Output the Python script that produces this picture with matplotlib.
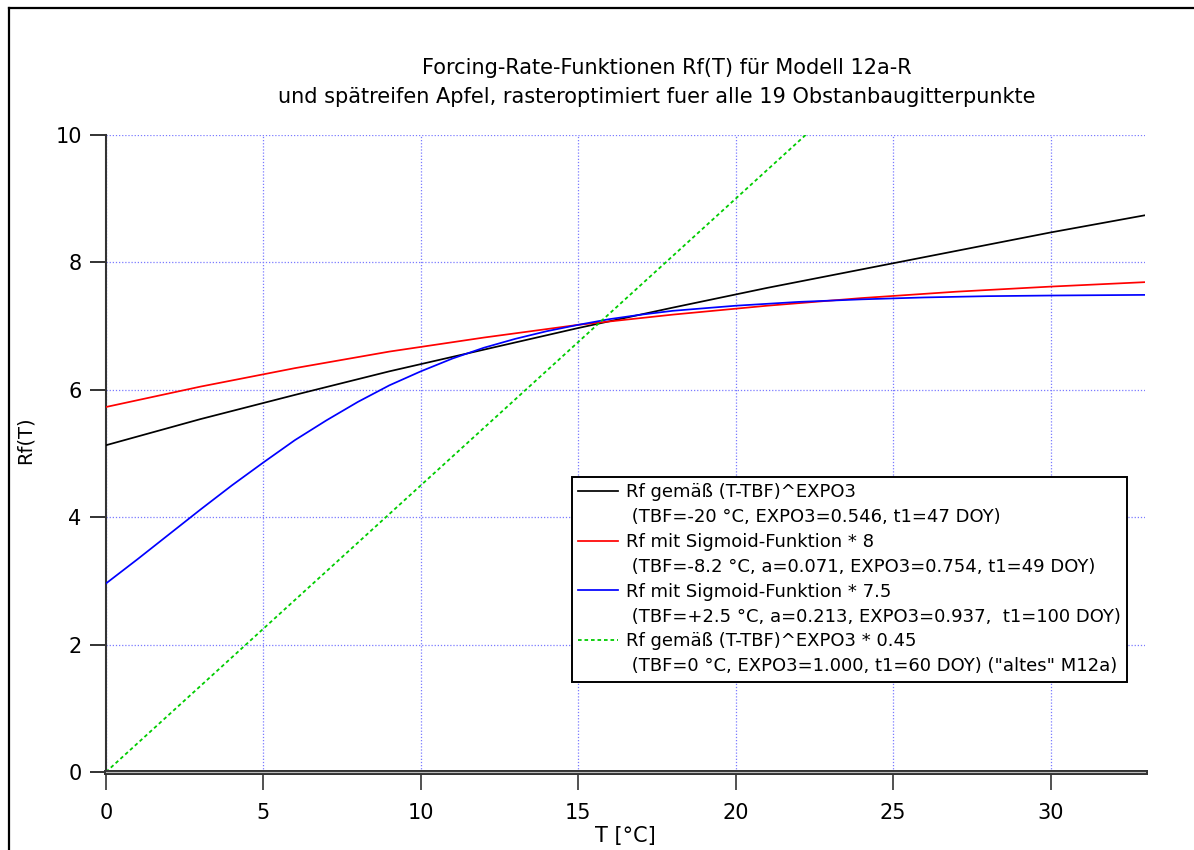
import matplotlib
matplotlib.use("Agg")
import matplotlib.pyplot as plt
from matplotlib.lines import Line2D

# -----------------------------
# Data
# -----------------------------
t_black = [0, 3, 6, 9, 12, 15, 18, 21, 24, 27, 30, 33]
rf_black = [5.13, 5.54, 5.92, 6.29, 6.63, 6.97, 7.29, 7.60, 7.89, 8.18, 8.47, 8.74]

t_red = [0, 3, 6, 9, 12, 15, 18, 21, 24, 27, 30, 33]
rf_red = [5.73, 6.05, 6.34, 6.60, 6.82, 7.02, 7.18, 7.32, 7.44, 7.54, 7.62, 7.69]

t_blue = [0, 1, 2, 3, 4, 5, 6, 7, 8, 9, 10, 11, 12, 13, 14, 15, 16, 17, 18, 19,
          20, 22, 24, 26, 28, 30, 33]
rf_blue = [2.96, 3.34, 3.73, 4.12, 4.50, 4.86, 5.21, 5.52, 5.81, 6.07, 6.29,
           6.49, 6.66, 6.80, 6.92, 7.02, 7.11, 7.18, 7.24, 7.28, 7.32, 7.38,
           7.42, 7.45, 7.47, 7.48, 7.49]

t_green = [0, 22.22]
rf_green = [0, 10]

legend_lines = [
    ("Rf gemäß (T-TBF)^EXPO3", " (TBF=-20 °C, EXPO3=0.546, t1=47 DOY)"),
    ("Rf mit Sigmoid-Funktion * 8", " (TBF=-8.2 °C, a=0.071, EXPO3=0.754, t1=49 DOY)"),
    ("Rf mit Sigmoid-Funktion * 7.5", " (TBF=+2.5 °C, a=0.213, EXPO3=0.937,  t1=100 DOY)"),
    ("Rf gemäß (T-TBF)^EXPO3 * 0.45", " (TBF=0 °C, EXPO3=1.000, t1=60 DOY) (\"altes\" M12a)"),
]

title_1 = "Forcing-Rate-Funktionen Rf(T) für Modell 12a-R"
title_2 = "und spätreifen Apfel, rasteroptimiert fuer alle 19 Obstanbaugitterpunkte"

# -----------------------------
# Figure
# -----------------------------
plt.rcParams['font.family'] = ['DejaVu Sans']
W, H = 1194, 850
fig = plt.figure(figsize=(W / 100, H / 100), dpi=100)
ax = fig.add_axes([106 / W, 1 - 772 / H, (1145 - 106) / W, (772 - 135) / H])

# outer frame (only left and top visible in the crop)
fig.add_artist(Line2D([9 / W, 9 / W], [0, 1 - 8 / H], transform=fig.transFigure,
                      color="black", lw=1.6))
fig.add_artist(Line2D([9 / W, 1], [1 - 8 / H, 1 - 8 / H], transform=fig.transFigure,
                      color="black", lw=1.6))

ax.grid(True, color="#7a7aff", linestyle=(0, (1, 1.5)), lw=0.9)
ax.set_axisbelow(True)

lw = 1.25
ax.plot(t_black, rf_black, color="black", lw=lw, zorder=3)
ax.plot(t_red, rf_red, color="#ff0000", lw=lw, zorder=3)
ax.plot(t_blue, rf_blue, color="#0000ff", lw=lw, zorder=3)
ax.plot(t_green, rf_green, color="#00cc00", lw=1.3, linestyle=(0, (2, 1.6)), zorder=3)

# zero line (double line look)
ax.axhline(0, color="#333333", lw=3.6, zorder=4, clip_on=False)
ax.axhline(0, color="#bbbbbb", lw=0.8, zorder=5, clip_on=False)

ax.set_xlim(0, 33)
ax.set_ylim(0, 10)
ax.set_xticks([0, 5, 10, 15, 20, 25, 30])
ax.set_yticks([0, 2, 4, 6, 8, 10])

for s in ["top", "right"]:
    ax.spines[s].set_visible(False)
ax.spines["left"].set_color("#333333")
ax.spines["left"].set_linewidth(1.5)
ax.spines["bottom"].set_visible(False)

ax.tick_params(axis="x", direction="out", length=13, width=1.1, pad=9,
               labelsize=15, color="#222222")
ax.tick_params(axis="y", direction="out", length=11.5, width=1.3, pad=6,
               labelsize=15, color="#222222")

fig.text(625 / W, 1 - 836 / H, "T [°C]", ha="center", va="center", fontsize=15)
fig.text(25 / W, 1 - 440 / H, "Rf(T)", ha="center", va="center", rotation=90,
         fontsize=14)

fig.text(667 / W, 1 - 68 / H, title_1, ha="center", va="center", fontsize=15)
fig.text(657 / W, 1 - 97 / H, title_2, ha="center", va="center", fontsize=15)

# legend: one entry per text line, handle only on the first line
handles, labels = [], []
styles = [dict(color="black", lw=lw), dict(color="#ff0000", lw=lw),
          dict(color="#0000ff", lw=lw),
          dict(color="#00cc00", lw=1.3, linestyle=(0, (2, 1.6)))]
for st, (l1, l2) in zip(styles, legend_lines):
    handles.append(Line2D([], [], **st))
    labels.append(l1)
    handles.append(Line2D([], [], color="none"))
    labels.append(l2)

leg = fig.legend(handles, labels, loc="upper left",
                 bbox_to_anchor=(572 / W, 1 - 477 / H),
                 bbox_transform=fig.transFigure,
                 fontsize=13, frameon=True, fancybox=False, framealpha=1,
                 edgecolor="black", handlelength=2.2, handletextpad=0.45,
                 labelspacing=0.38, borderpad=0.35, borderaxespad=0)
leg.get_frame().set_linewidth(1.4)

fig.savefig("out.png", dpi=100)
